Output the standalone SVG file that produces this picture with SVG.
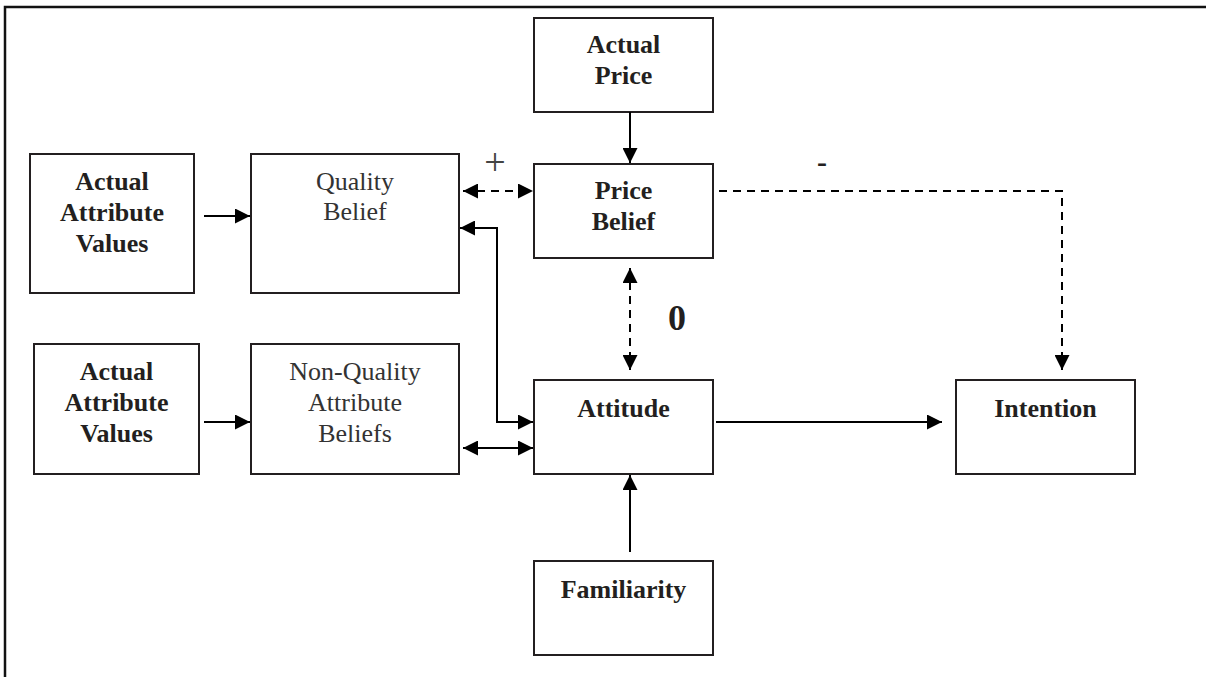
<svg xmlns="http://www.w3.org/2000/svg" width="1206" height="677" viewBox="0 0 1206 677">
<style>
.box{fill:#fff;stroke:#231f20;stroke-width:2}
.b{font-family:"Liberation Serif","Times New Roman",serif;font-size:26px;font-weight:bold;fill:#231f20;text-anchor:middle}
.r{font-family:"Liberation Serif","Times New Roman",serif;font-size:26px;fill:#333;text-anchor:middle}
.c{fill:none;stroke:#000;stroke-width:2}
.d{stroke-dasharray:8 6}
</style>
<defs>
<marker id="ah" viewBox="0 0 15 15" refX="15" refY="7.5" markerWidth="15" markerHeight="15" markerUnits="userSpaceOnUse" orient="auto-start-reverse">
<path d="M0,0 L15,7.5 L0,15 z" fill="#000"/>
</marker>
</defs>
<rect width="1206" height="677" fill="#fff"/>
<path d="M5,680 V7 H1210" fill="none" stroke="#111" stroke-width="2.5"/>

<g id="aav1">
<rect class="box" x="30" y="154" width="164" height="139"/>
<text class="b" x="112" y="190">Actual</text>
<text class="b" x="112" y="221">Attribute</text>
<text class="b" x="112" y="252">Values</text>
</g>
<g id="quality">
<rect class="box" x="251" y="154" width="208" height="139"/>
<text class="r" x="355" y="190">Quality</text>
<text class="r" x="355" y="220">Belief</text>
</g>
<g id="actualprice">
<rect class="box" x="534" y="18" width="179" height="94"/>
<text class="b" x="623.5" y="53">Actual</text>
<text class="b" x="623.5" y="84">Price</text>
</g>
<g id="pricebelief">
<rect class="box" x="534" y="164" width="179" height="94"/>
<text class="b" x="623.5" y="199">Price</text>
<text class="b" x="623.5" y="230">Belief</text>
</g>
<g id="aav2">
<rect class="box" x="34" y="344" width="165" height="130"/>
<text class="b" x="116.5" y="380">Actual</text>
<text class="b" x="116.5" y="411">Attribute</text>
<text class="b" x="116.5" y="442">Values</text>
</g>
<g id="nonquality">
<rect class="box" x="251" y="344" width="208" height="130"/>
<text class="r" x="355" y="380">Non-Quality</text>
<text class="r" x="355" y="411">Attribute</text>
<text class="r" x="355" y="442">Beliefs</text>
</g>
<g id="attitude">
<rect class="box" x="534" y="380" width="179" height="94"/>
<text class="b" x="623.5" y="417">Attitude</text>
</g>
<g id="familiarity">
<rect class="box" x="534" y="561" width="179" height="94"/>
<text class="b" x="623.5" y="598">Familiarity</text>
</g>
<g id="intention">
<rect class="box" x="956" y="380" width="179" height="94"/>
<text class="b" x="1045.5" y="417">Intention</text>
</g>

<g id="connectors">
<line class="c" x1="204" y1="216" x2="250" y2="216" marker-end="url(#ah)"/>
<line class="c" x1="204" y1="422" x2="250" y2="422" marker-end="url(#ah)"/>
<line class="c" x1="630" y1="112" x2="630" y2="163" marker-end="url(#ah)"/>
<line class="c d" x1="463" y1="191" x2="533" y2="191" marker-start="url(#ah)" marker-end="url(#ah)"/>
<path class="c d" d="M719,191 H1062 V370" marker-end="url(#ah)"/>
<line class="c d" x1="630" y1="268" x2="630" y2="370" marker-start="url(#ah)" marker-end="url(#ah)"/>
<path class="c" d="M460,228 H497 V422 H533" marker-start="url(#ah)" marker-end="url(#ah)"/>
<line class="c" x1="463" y1="448" x2="533" y2="448" marker-start="url(#ah)" marker-end="url(#ah)"/>
<line class="c" x1="716" y1="422" x2="942" y2="422" marker-end="url(#ah)"/>
<line class="c" x1="630" y1="552" x2="630" y2="475" marker-end="url(#ah)"/>
<text class="r" x="495" y="175" style="font-size:38px;fill:#444">+</text>
<text class="b" x="822" y="172" style="font-size:30px">-</text>
<text class="b" x="677" y="330" style="font-size:36px">0</text>
</g>
</svg>
